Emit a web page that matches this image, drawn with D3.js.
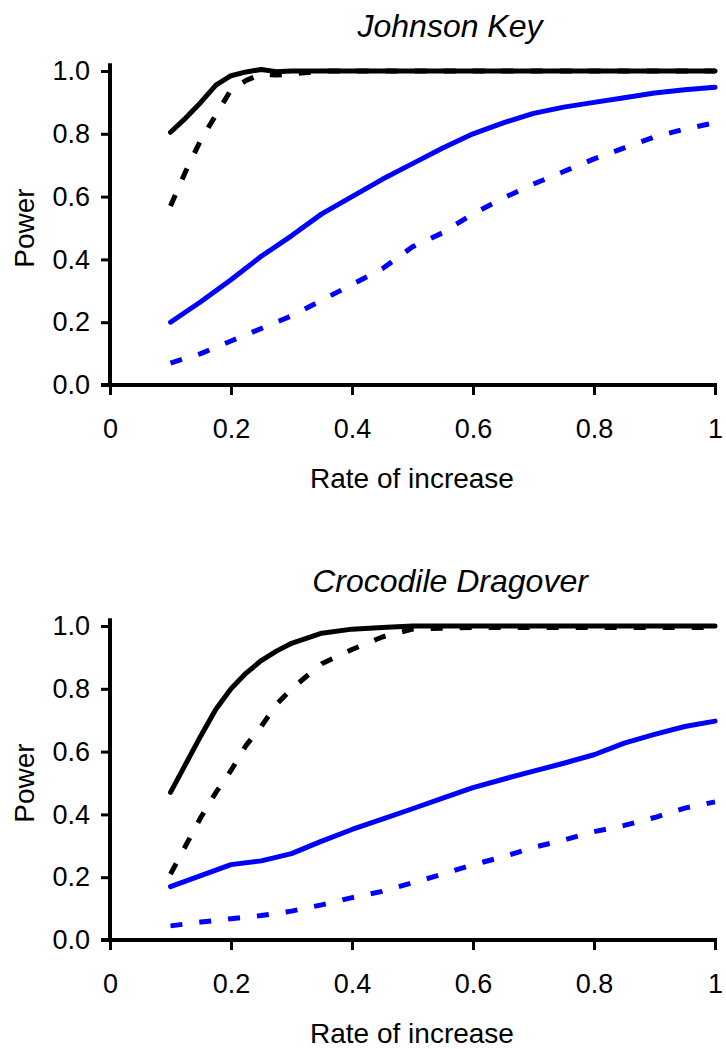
<!DOCTYPE html>
<html lang="en">
<head>
  <meta charset="UTF-8">
  <title>Power vs rate of increase</title>
  <script src="https://d3js.org/d3.v7.min.js"></script>
  <style>
    body { margin:0; background:#fff; }
    svg { display:block; }
    text { font-family: 'Liberation Sans', Arial, sans-serif; fill:#000; }
  </style>
</head>
<body>
  <svg width="726" height="1049"></svg>
  <script>
    // x values (rate of increase)
    const rateA = [0.1, 0.125, 0.15, 0.175, 0.2, 0.225, 0.25, 0.275, 0.3, 0.35, 0.4, 0.45, 0.5, 0.55, 0.6, 0.65, 0.7, 0.75, 0.8, 0.85, 0.9, 0.95, 1.0]
    const rateB = [0.1, 0.15, 0.2, 0.25, 0.3, 0.35, 0.4, 0.45, 0.5, 0.55, 0.6, 0.65, 0.7, 0.75, 0.8, 0.85, 0.9, 0.95, 1.0]

    // Johnson Key
    const jkBlackSolid = [0.805, 0.85, 0.90, 0.955, 0.985, 0.997, 1.005, 0.998, 1.0, 1.0, 1.0, 1.0, 1.0, 1.0, 1.0, 1.0, 1.0, 1.0, 1.0, 1.0, 1.0, 1.0, 1.0]
    const jkBlackDash = [0.57, 0.68, 0.78, 0.86, 0.94, 0.97, 0.99, 0.987, 0.99, 1.0, 1.0, 1.0, 1.0, 1.0, 1.0, 1.0, 1.0, 1.0, 1.0, 1.0, 1.0, 1.0, 1.0]
    const jkBlueSolid = [0.20, 0.265, 0.335, 0.41, 0.475, 0.545, 0.60, 0.655, 0.705, 0.755, 0.80, 0.835, 0.865, 0.885, 0.90, 0.915, 0.93, 0.94, 0.948]
    const jkBlueDash = [0.07, 0.10, 0.14, 0.18, 0.22, 0.27, 0.32, 0.37, 0.44, 0.485, 0.545, 0.595, 0.64, 0.68, 0.72, 0.755, 0.79, 0.815, 0.835]

    // Crocodile Dragover
    const cdBlackSolid = [0.47, 0.56, 0.65, 0.735, 0.80, 0.85, 0.89, 0.92, 0.945, 0.977, 0.99, 0.995, 1.0, 1.0, 1.0, 1.0, 1.0, 1.0, 1.0, 1.0, 1.0, 1.0, 1.0]
    const cdBlackDash = [0.21, 0.30, 0.39, 0.47, 0.54, 0.62, 0.68, 0.75, 0.80, 0.88, 0.925, 0.965, 0.99, 0.993, 0.995, 0.995, 0.995, 0.995, 0.995, 0.995, 0.995, 0.995, 0.995]
    const cdBlueSolid = [0.17, 0.205, 0.24, 0.252, 0.275, 0.315, 0.352, 0.385, 0.418, 0.452, 0.485, 0.512, 0.538, 0.563, 0.59, 0.627, 0.655, 0.68, 0.697]
    const cdBlueDash = [0.045, 0.057, 0.068, 0.078, 0.092, 0.112, 0.135, 0.155, 0.182, 0.21, 0.24, 0.265, 0.295, 0.318, 0.345, 0.365, 0.39, 0.42, 0.44]

    const xTicks = [0, 0.2, 0.4, 0.6, 0.8, 1]
    const yTicks = [0, 0.2, 0.4, 0.6, 0.8, 1.0]

    const panels = [
      { title: 'Johnson Key', top: 0,
        series: [
          { x: rateB, y: jkBlueDash, color: '#0000ff', dash: '12,17' },
          { x: rateB, y: jkBlueSolid, color: '#0000ff', dash: null },
          { x: rateA, y: jkBlackDash, color: '#000', dash: '12,17' },
          { x: rateA, y: jkBlackSolid, color: '#000', dash: null }
        ] },
      { title: 'Crocodile Dragover', top: 555,
        series: [
          { x: rateB, y: cdBlueDash, color: '#0000ff', dash: '12,17' },
          { x: rateB, y: cdBlueSolid, color: '#0000ff', dash: null },
          { x: rateA, y: cdBlackDash, color: '#000', dash: '12,17' },
          { x: rateA, y: cdBlackSolid, color: '#000', dash: null }
        ] }
    ]

    const svg = d3.select('svg')
    const margin = { left: 110, right: 11, plotTop: 71, plotBottom: 385 }

    panels.forEach(p => {
      const g = svg.append('g').attr('transform', 'translate(0,' + p.top + ')')
      const x = d3.scaleLinear().domain([0, 1]).range([margin.left, 726 - margin.right])
      const y = d3.scaleLinear().domain([0, 1]).range([margin.plotBottom, margin.plotTop])

      const line = d3.line().x(d => x(d[0])).y(d => y(d[1]))
      p.series.forEach(s => {
        g.append('path')
          .datum(s.x.map((v, i) => [v, s.y[i]]))
          .attr('d', line)
          .attr('fill', 'none')
          .attr('stroke', s.color)
          .attr('stroke-width', 5)
          .attr('stroke-linejoin', 'round')
          .attr('stroke-linecap', s.dash ? 'butt' : 'round')
          .attr('stroke-dasharray', s.dash)
      })

      // axes
      const yAxis = d3.axisLeft(y).tickValues(yTicks).tickFormat(d3.format('.1f'))
        .tickSize(9).tickSizeOuter(0).tickPadding(11)
      const ya = g.append('g').attr('transform', 'translate(' + x(0) + ',0)').call(yAxis)
      ya.select('.domain').attr('d', 'M0,' + y(1.025) + 'V' + (y(0) + 2))

      const xAxis = d3.axisBottom(x).tickValues(xTicks).tickFormat(d => d3.format('')(d))
        .tickSize(10).tickSizeOuter(0).tickPadding(24)
      const xa = g.append('g').attr('transform', 'translate(0,' + y(0) + ')').call(xAxis)
      xa.select('.domain').attr('d', 'M' + (x(0) - 9) + ',0H' + (x(1) + 2))

      g.selectAll('.domain').attr('stroke', '#000').attr('stroke-width', 4)
      g.selectAll('.tick line').attr('stroke', '#000').attr('stroke-width', 3)
      g.selectAll('.tick text').attr('font-size', 27).attr('font-family', "'Liberation Sans', Arial, sans-serif").attr('fill', '#000')

      // titles
      g.append('text')
        .attr('x', 450).attr('y', 37)
        .attr('text-anchor', 'middle')
        .attr('font-size', 32).attr('font-style', 'italic')
        .text(p.title)

      g.append('text')
        .attr('x', 412).attr('y', 488)
        .attr('text-anchor', 'middle')
        .attr('font-size', 28)
        .text('Rate of increase')

      g.append('text')
        .attr('transform', 'translate(34,' + ((margin.plotTop + margin.plotBottom) / 2) + ') rotate(-90)')
        .attr('text-anchor', 'middle')
        .attr('font-size', 28)
        .text('Power')
    })
  </script>
</body>
</html>
